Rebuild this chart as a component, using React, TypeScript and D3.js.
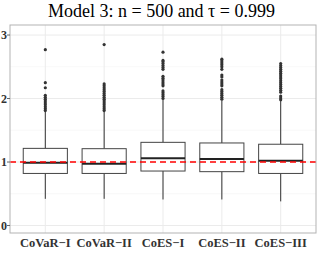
import React from "react"
import * as d3 from "d3"

const categories = ["CoVaR−I", "CoVaR−II", "CoES−I", "CoES−II", "CoES−III"]

// [lower whisker, q1, median, q3, upper whisker]
const boxStats: Array<[number, number, number, number, number]> = [
    [0.42, 0.82, 0.99, 1.215, 1.79],
    [0.42, 0.82, 0.973, 1.21, 1.79],
    [0.41, 0.858, 1.058, 1.31, 1.98],
    [0.41, 0.848, 1.047, 1.30, 1.97],
    [0.38, 0.82, 1.02, 1.28, 1.96],
]

const outliers: number[][] = [
    [1.81, 1.84, 1.87, 1.9, 1.93, 1.96, 1.99, 2.02, 2.05, 2.17, 2.25, 2.77],
    [1.81, 1.84, 1.87, 1.9, 1.93, 1.96, 1.99, 2.02, 2.05, 2.08, 2.11, 2.14, 2.17, 2.2, 2.23, 2.85],
    [2.0, 2.03, 2.06, 2.09, 2.12, 2.2, 2.23, 2.26, 2.29, 2.32, 2.35, 2.46, 2.49, 2.52, 2.55, 2.58, 2.6, 2.73],
    [1.99, 2.02, 2.05, 2.08, 2.11, 2.14, 2.2, 2.23, 2.26, 2.29, 2.34, 2.37, 2.46, 2.5, 2.53, 2.56, 2.59, 2.62],
    [1.98, 2.01, 2.04, 2.1, 2.13, 2.16, 2.19, 2.22, 2.25, 2.28, 2.31, 2.34, 2.37, 2.4, 2.43, 2.46, 2.49, 2.52, 2.55],
]

const yTicks = [0, 1, 2, 3]
const yMinor = [0.5, 1.5, 2.5]
const refLine = 1

const W = 317
const H = 253
const panel = {left: 10, right: 316, top: 25, bottom: 233}

const App = () => {
    const x = d3.scaleBand<string>()
        .domain(categories)
        .range([panel.left, panel.right])
        .paddingOuter(0.1)
        .paddingInner(0)
    const y = d3.scaleLinear()
        .domain([-0.118, 3.158])
        .range([panel.bottom, panel.top])
    const bw = x.bandwidth()
    const boxW = bw * 0.75
    const serif = "Liberation Serif, Times New Roman, Times, serif"

    return (
        <svg width={W} height={H} style={{position: "absolute", left: 0, top: 0}}>
            <rect x={0} y={0} width={W} height={H} fill="white"/>
            <text x={161.5} y={17} textAnchor="middle" style={{fontFamily: serif}} fontSize={18}>
                Model 3: n = 500 and τ = 0.999
            </text>
            {yMinor.map(v => (
                <line key={"m" + v} x1={panel.left} x2={panel.right} y1={y(v)} y2={y(v)}
                      stroke="#f3f3f3" strokeWidth={0.6}/>
            ))}
            {yTicks.map(v => (
                <line key={"g" + v} x1={panel.left} x2={panel.right} y1={y(v)} y2={y(v)}
                      stroke="#ebebeb" strokeWidth={1}/>
            ))}
            {categories.map(c => (
                <line key={"v" + c} x1={x(c)! + bw / 2} x2={x(c)! + bw / 2} y1={panel.top} y2={panel.bottom}
                      stroke="#ebebeb" strokeWidth={1}/>
            ))}
            {categories.map((c, i) => {
                const cx = x(c)! + bw / 2
                const [lo, q1, med, q3, hi] = boxStats[i]
                return (
                    <g key={c}>
                        <line x1={cx} x2={cx} y1={y(hi)} y2={y(q3)} stroke="#333" strokeWidth={1}/>
                        <line x1={cx} x2={cx} y1={y(q1)} y2={y(lo)} stroke="#333" strokeWidth={1}/>
                        <rect x={cx - boxW / 2} y={y(q3)} width={boxW} height={y(q1) - y(q3)}
                              fill="white" stroke="#444" strokeWidth={1}/>
                        <line x1={cx - boxW / 2} x2={cx + boxW / 2} y1={y(med)} y2={y(med)}
                              stroke="#222" strokeWidth={2}/>
                        {outliers[i].map((v, j) => (
                            <circle key={j} cx={cx} cy={y(v)} r={1.6} fill="#333"/>
                        ))}
                    </g>
                )
            })}
            <line x1={panel.left} x2={panel.right} y1={y(refLine)} y2={y(refLine)}
                  stroke="#ff0000" strokeWidth={1.6} strokeDasharray="6,4"/>
            <rect x={panel.left} y={panel.top} width={panel.right - panel.left} height={panel.bottom - panel.top}
                  fill="none" stroke="#b3b3b3" strokeWidth={1}/>
            {yTicks.map(v => (
                <g key={"t" + v}>
                    <line x1={panel.left - 3} x2={panel.left} y1={y(v)} y2={y(v)} stroke="#666" strokeWidth={1}/>
                    <text x={7} y={y(v)} dy="0.35em" textAnchor="end" style={{fontFamily: serif}}
                          fontWeight="bold" fontSize={12} fill="#333">{v}</text>
                </g>
            ))}
            {categories.map(c => (
                <text key={"l" + c} x={x(c)! + bw / 2} y={246.5} textAnchor="middle" style={{fontFamily: serif}}
                      fontWeight="bold" fontSize={12.5} fill="#333">{c}</text>
            ))}
        </svg>
    )
}

export default App
